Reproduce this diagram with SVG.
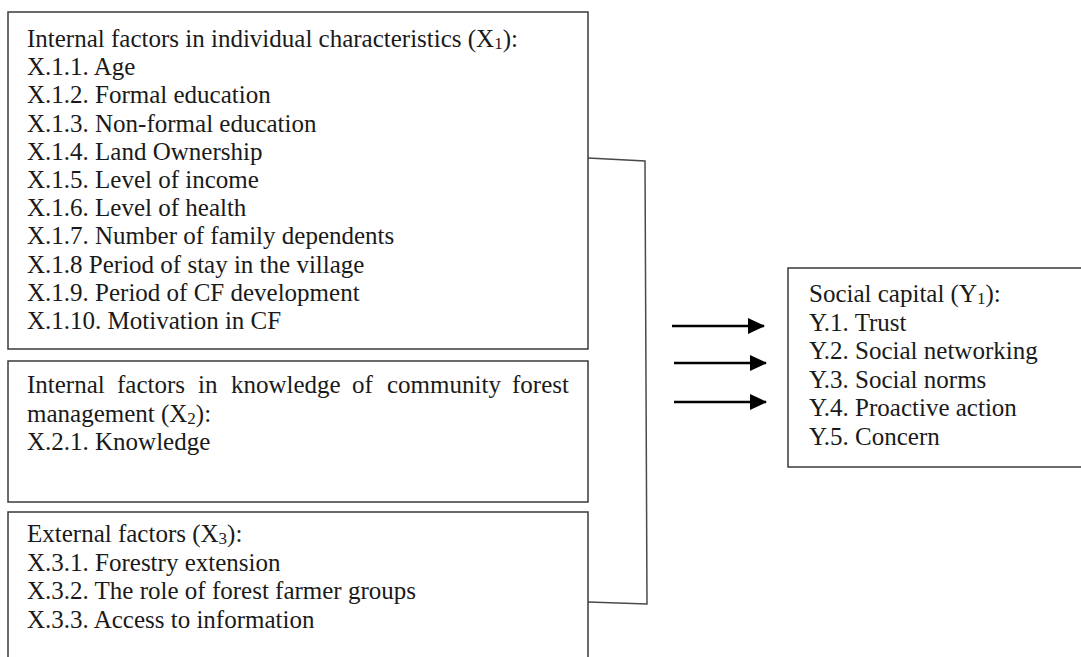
<svg xmlns="http://www.w3.org/2000/svg" width="1081" height="657" viewBox="0 0 1081 657">
<style>
.box{fill:#fff;stroke:#3a3a3a;stroke-width:1.5}
text{font-family:'Liberation Serif','DejaVu Serif',serif;font-size:25px;fill:#1a1a1a}
.sub{font-size:17px}
.br{fill:none;stroke:#4a4a4a;stroke-width:1.5}
.ar{stroke:#000;stroke-width:2.4;fill:none}
</style>
<defs>
<marker id="ah" markerUnits="userSpaceOnUse" markerWidth="17" markerHeight="16" refX="16" refY="8" orient="auto">
<path d="M0,0 L17,8 L0,16 z" fill="#000"/>
</marker>
</defs>
<rect width="1081" height="657" fill="#fff"/>
<g id="connectors">
<path class="br" d="M588,158 L645,161 L647,604 L588,602"/>
<line class="ar" x1="672" y1="326" x2="764" y2="326" marker-end="url(#ah)"/>
<line class="ar" x1="674" y1="363" x2="766" y2="363" marker-end="url(#ah)"/>
<line class="ar" x1="674" y1="402" x2="766" y2="402" marker-end="url(#ah)"/>
</g>
<g id="x1" font-family="Liberation Serif, serif">
<rect class="box" x="8" y="12" width="580" height="337"/>
<text x="27" y="47">Internal factors in individual characteristics (X<tspan class="sub" dy="2">1</tspan><tspan dy="-2">):</tspan></text>
<text x="27" y="75.2">X.1.1. Age</text>
<text x="27" y="103.4">X.1.2. Formal education</text>
<text x="27" y="131.6">X.1.3. Non-formal education</text>
<text x="27" y="159.8">X.1.4. Land Ownership</text>
<text x="27" y="188">X.1.5. Level of income</text>
<text x="27" y="216.2">X.1.6. Level of health</text>
<text x="27" y="244.4">X.1.7. Number of family dependents</text>
<text x="27" y="272.6">X.1.8 Period of stay in the village</text>
<text x="27" y="300.8">X.1.9. Period of CF development</text>
<text x="27" y="329">X.1.10. Motivation in CF</text>
</g>
<g id="x2" font-family="Liberation Serif, serif">
<rect class="box" x="8" y="361" width="580" height="141"/>
<text y="393"><tspan x="27">Internal</tspan><tspan x="117">factors</tspan><tspan x="198">in</tspan><tspan x="231">knowledge</tspan><tspan x="352">of</tspan><tspan x="387">community</tspan><tspan x="512">forest</tspan></text>
<text x="27" y="421.5">management (X<tspan class="sub" dy="2">2</tspan><tspan dy="-2">):</tspan></text>
<text x="27" y="450">X.2.1. Knowledge</text>
</g>
<g id="x3" font-family="Liberation Serif, serif">
<path class="box" d="M8,660 L8,512 L588,512 L588,660"/>
<text x="27" y="542">External factors (X<tspan class="sub" dy="2">3</tspan><tspan dy="-2">):</tspan></text>
<text x="27" y="570.5">X.3.1. Forestry extension</text>
<text x="27" y="599">X.3.2. The role of forest farmer groups</text>
<text x="27" y="627.5">X.3.3. Access to information</text>
</g>
<g id="y1" font-family="Liberation Serif, serif">
<rect class="box" x="788" y="268" width="300" height="199"/>
<text x="809" y="302">Social capital (Y<tspan class="sub" dy="2">1</tspan><tspan dy="-2">):</tspan></text>
<text x="809" y="330.5">Y.1. Trust</text>
<text x="809" y="359">Y.2. Social networking</text>
<text x="809" y="387.5">Y.3. Social norms</text>
<text x="809" y="416">Y.4. Proactive action</text>
<text x="809" y="444.5">Y.5. Concern</text>
</g>
</svg>
